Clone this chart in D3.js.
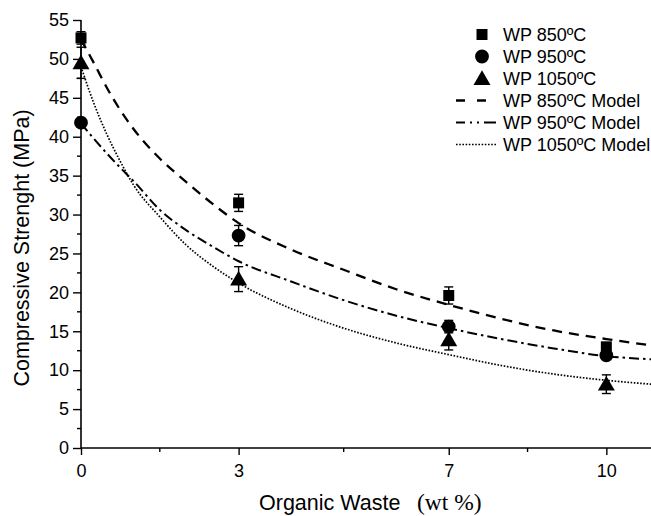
<!DOCTYPE html>
<html>
<head>
<meta charset="utf-8">
<script src="https://cdn.jsdelivr.net/npm/d3@7"></script>
<style>
  html, body { margin: 0; padding: 0; background: #fff; }
  svg { display: block; }
  text { font-family: "Liberation Sans", Arial, sans-serif; fill: #000; }
</style>
</head>
<body>
<svg id="chart" width="651" height="516"></svg>
<script>
// ---- data ----
const wasteX = [0, 3, 7, 10];
const wp850 = [52.7, 31.5, 19.6, 13.0];
const wp850Err = [0.8, 1.1, 1.1, 0.5];
const wp950 = [41.8, 27.3, 15.6, 11.9];
const wp950Err = [0.5, 1.3, 0.8, 0.5];
const wp1050 = [49.5, 21.7, 13.9, 8.2];
const wp1050Err = [2.0, 1.6, 1.3, 1.2];

const modelX    = [0, 0.25, 0.5, 0.75, 1, 1.5, 2, 2.5, 3, 4, 5, 6, 7, 8, 9, 10, 10.85];
const model850  = [52.5, 49.4, 46.2, 43.4, 41.0, 37.2, 34.2, 31.4, 28.9, 25.5, 22.9, 20.4, 18.4, 16.6, 15.1, 14.0, 13.2];
const model950  = [41.7, 39.7, 37.8, 36.0, 34.3, 30.6, 28.0, 25.9, 24.0, 21.4, 19.0, 17.0, 15.4, 14.0, 12.8, 11.8, 11.4];
const model1050 = [49.0, 44.2, 40.2, 36.8, 33.8, 29.7, 26.1, 23.4, 21.2, 17.9, 15.4, 13.5, 12.0, 10.6, 9.5, 8.7, 8.2];

const xMajorTicks = [0, 3, 7, 10];
const xMinorTicks = [1.5, 5, 8.5];
const yMajorTicks = [0, 5, 10, 15, 20, 25, 30, 35, 40, 45, 50, 55];
const yMinorTicks = [2.5, 7.5, 12.5, 17.5, 22.5, 27.5, 32.5, 37.5, 42.5, 47.5, 52.5];

const seriesNames = ["WP 850ºC", "WP 950ºC", "WP 1050ºC"];
const modelNames = ["WP 850ºC Model", "WP 950ºC Model", "WP 1050ºC Model"];

// ---- layout ----
const svg = d3.select("#chart");
const x = d3.scaleLinear().domain([0, 10.85]).range([81, 651]);
const y = d3.scaleLinear().domain([0, 55]).range([448, 20]);

// axes
const xAxis = d3.axisBottom(x).tickValues(xMajorTicks).tickSize(7).tickPadding(5).tickFormat(d3.format("d"));
const gx = svg.append("g").attr("transform", `translate(0,${y(0)})`).call(xAxis);
gx.select(".domain").attr("stroke-width", 1.6).attr("d", `M${x(0)},0H651`);
gx.selectAll(".tick line").attr("stroke-width", 1.4);
gx.selectAll(".tick text").style("font-size", "18px").attr("dy", "0.71em").attr("y", 16);
gx.selectAll(".minor").data(xMinorTicks).enter().append("line")
  .attr("x1", d => x(d)).attr("x2", d => x(d)).attr("y1", 0).attr("y2", 4)
  .attr("stroke", "#000").attr("stroke-width", 1.4);

const yAxis = d3.axisLeft(y).tickValues(yMajorTicks).tickSize(8).tickPadding(4).tickFormat(d3.format("d"));
const gy = svg.append("g").attr("transform", `translate(${x(0)},0)`).call(yAxis);
gy.select(".domain").attr("stroke-width", 1.6).attr("d", `M0,${y(0)}V${y(55)}`);
gy.selectAll(".tick line").attr("stroke-width", 1.4);
gy.selectAll(".tick text").style("font-size", "18px");
gy.selectAll(".minor").data(yMinorTicks).enter().append("line")
  .attr("x1", -4).attr("x2", 0).attr("y1", d => y(d)).attr("y2", d => y(d))
  .attr("stroke", "#000").attr("stroke-width", 1.4);

// axis titles
const xt = svg.append("text").attr("y", 510).style("font-size", "21.5px");
xt.append("tspan").attr("x", 259).text("Organic Waste");
xt.append("tspan").attr("x", 417)
  .style("font-family", "'Liberation Serif', 'Times New Roman', serif").style("font-size", "23.5px").text("(wt %)");

svg.append("text")
  .attr("transform", `translate(29,248) rotate(-90)`)
  .attr("text-anchor", "middle")
  .style("font-size", "21.5px")
  .text("Compressive Strenght (MPa)");

// model curves
const line = d3.line().x(d => x(d[0])).y(d => y(d[1])).curve(d3.curveMonotoneX);
const models = [
  { vals: model850, dash: "10,7", w: 2.3 },
  { vals: model950, dash: "10,4,2.5,4", w: 2.0 },
  { vals: model1050, dash: "1.6,1.6", w: 1.7 }
];
models.forEach(m => {
  svg.append("path")
    .datum(modelX.map((xv, i) => [xv, m.vals[i]]))
    .attr("d", line)
    .attr("fill", "none").attr("stroke", "#000")
    .attr("stroke-width", m.w).attr("stroke-dasharray", m.dash);
});

// error bars + markers
const symSquare = d3.symbol().type(d3.symbolSquare).size(121);
const symCircle = d3.symbol().type(d3.symbolCircle).size(150);
const symTri = d3.symbol().type(d3.symbolTriangle).size(125);
const series = [
  { vals: wp850, err: wp850Err, sym: symSquare, dy: 0 },
  { vals: wp950, err: wp950Err, sym: symCircle, dy: 0 },
  { vals: wp1050, err: wp1050Err, sym: symTri, dy: 1.5 }
];
series.forEach(s => {
  const g = svg.append("g");
  wasteX.forEach((xv, i) => {
    const cx = x(xv), top = y(s.vals[i] + s.err[i]), bot = y(s.vals[i] - s.err[i]);
    g.append("line").attr("x1", cx).attr("x2", cx).attr("y1", top).attr("y2", bot)
      .attr("stroke", "#000").attr("stroke-width", 1.4);
    [top, bot].forEach(yy => g.append("line").attr("x1", cx - 4.5).attr("x2", cx + 4.5)
      .attr("y1", yy).attr("y2", yy).attr("stroke", "#000").attr("stroke-width", 1.4));
    g.append("path").attr("d", s.sym())
      .attr("transform", `translate(${cx},${y(s.vals[i]) + s.dy})`).attr("fill", "#000");
  });
});

// legend
const legX = 482, textX = 503, rowY0 = 34.5, rowH = 22;
const leg = svg.append("g");
series.forEach((s, i) => {
  const cy = rowY0 + i * rowH;
  leg.append("path").attr("d", s.sym()).attr("transform", `translate(${legX},${cy + s.dy})`).attr("fill", "#000");
  leg.append("text").attr("x", textX).attr("y", cy + 6.5).style("font-size", "18px").text(seriesNames[i]);
});
const legDash = ["9,12", "9,5,2,5,2,5,12", "1.6,1.6"];
models.forEach((m, i) => {
  const cy = rowY0 + (i + 3) * rowH;
  leg.append("line").attr("x1", 456).attr("x2", 497).attr("y1", cy).attr("y2", cy)
    .attr("stroke", "#000").attr("stroke-width", m.w).attr("stroke-dasharray", legDash[i]);
  leg.append("text").attr("x", textX).attr("y", cy + 6.5).style("font-size", "18px").text(modelNames[i]);
});
</script>
</body>
</html>
